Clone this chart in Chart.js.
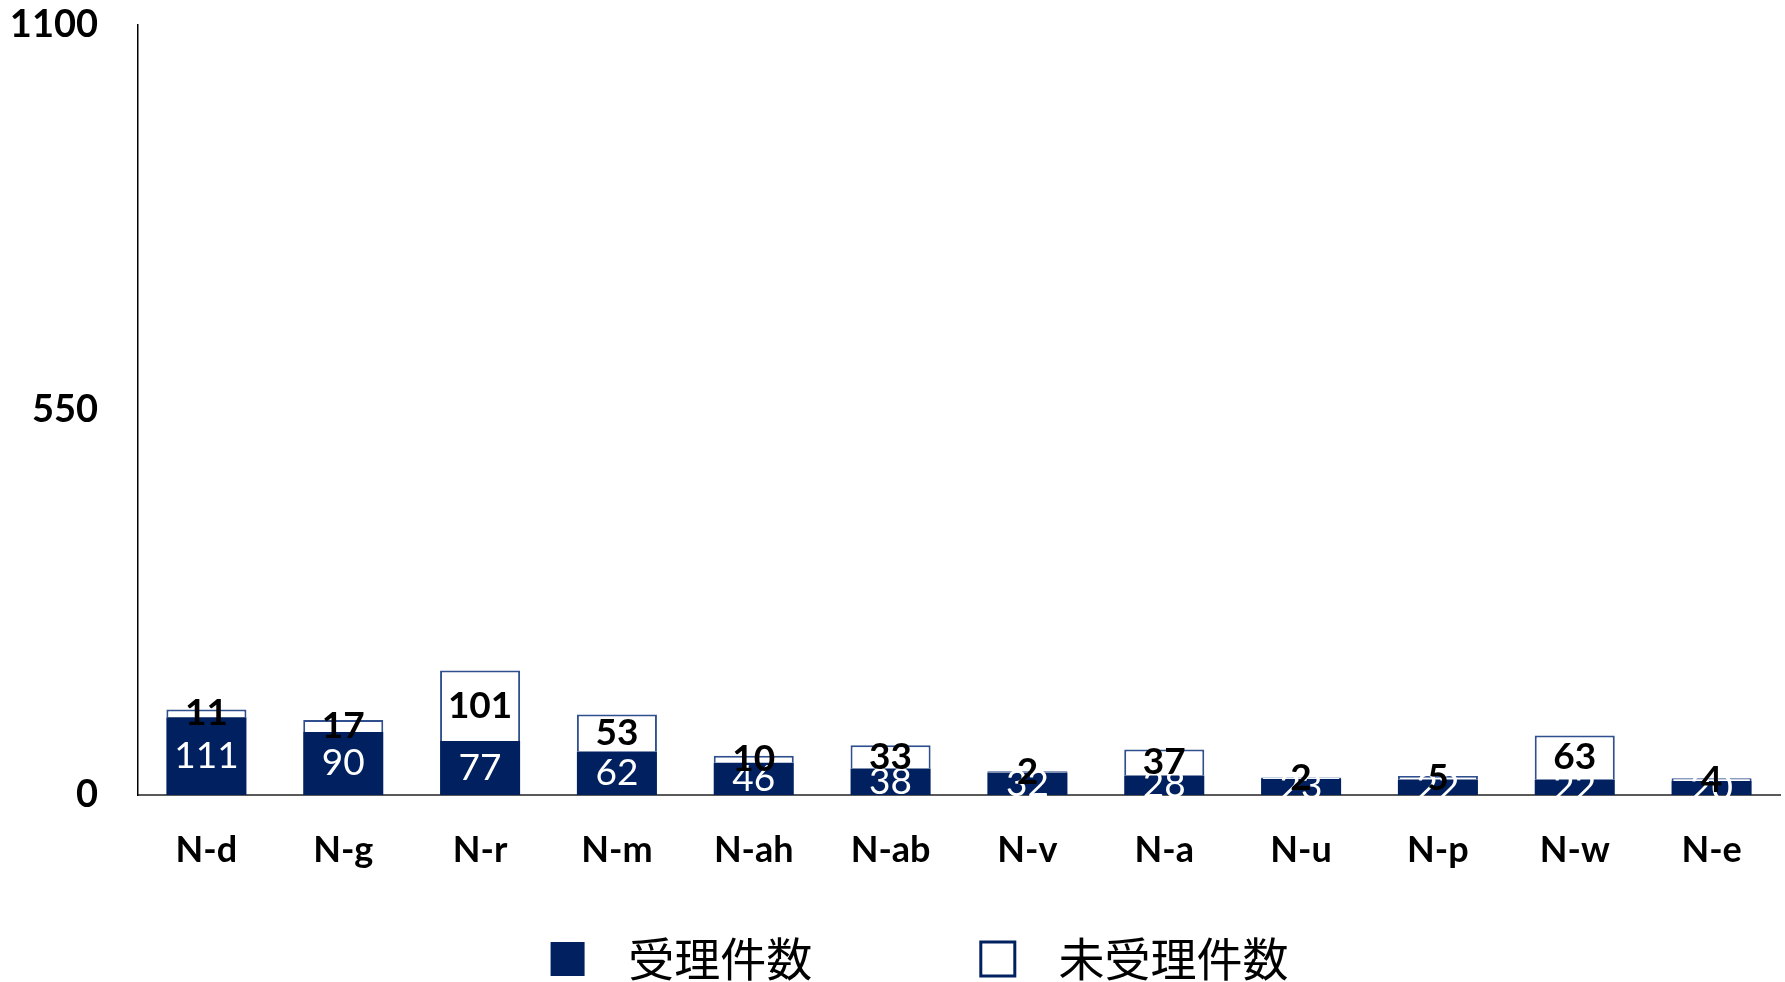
<!DOCTYPE html>
<html lang="ja">
<head>
<meta charset="utf-8">
<title>受理件数</title>
<script src="https://cdn.jsdelivr.net/npm/chart.js@4.4.1/dist/chart.umd.min.js"></script>
<style>
  html, body { margin: 0; padding: 0; background: #fff; }
  #chartBox { width: 1785px; height: 982px; }
</style>
</head>
<body>
<div id="chartBox"><canvas id="myChart"></canvas></div>
<script>
// data
const categories = ['N-d', 'N-g', 'N-r', 'N-m', 'N-ah', 'N-ab', 'N-v', 'N-a', 'N-u', 'N-p', 'N-w', 'N-e'];
const accepted = [111, 90, 77, 62, 46, 38, 32, 28, 23, 22, 22, 20];
const notAccepted = [11, 17, 101, 53, 10, 33, 2, 37, 2, 5, 63, 4];
const yTicks = [0, 550, 1100];
const seriesNames = ['受理件数', '未受理件数'];

const NAVY = '#002060';
const EDGE = '#2F4F8F';

// numbers inside each bar segment
const barValues = {
  id: 'barValues',
  afterDatasetsDraw(chart) {
    const ctx = chart.ctx;
    chart.data.datasets.forEach((ds, i) => {
      const meta = chart.getDatasetMeta(i);
      ctx.save();
      ctx.font = i === 0 ? '37px Lato' : 'bold 37px Lato';
      ctx.fillStyle = i === 0 ? '#fff' : '#000';
      ctx.textAlign = 'center';
      ctx.textBaseline = 'middle';
      meta.data.forEach((bar, j) => {
        const p = bar.getProps(['x', 'y', 'base'], true);
        ctx.fillText(ds.data[j], p.x, (p.y + p.base) / 2);
      });
      ctx.restore();
    });
  }
};

// legend sits a bit right of the canvas centre
const legendShift = {
  id: 'legendShift',
  afterLayout(chart) {
    chart.legend.left = 59;
  }
};

const ctx = document.getElementById('myChart');

new Chart(ctx, {
  type: 'bar',
  data: {
    labels: categories,
    datasets: [{
      label: seriesNames[0],
      data: accepted,
      backgroundColor: NAVY,
      borderWidth: 0
    }, {
      label: seriesNames[1],
      data: notAccepted,
      backgroundColor: '#fff',
      borderColor: EDGE,
      borderWidth: 2
    }]
  },
  options: {
    responsive: true,
    maintainAspectRatio: false,
    animation: false,
    layout: { padding: { top: 25, left: 0, right: 5, bottom: -10 } },
    datasets: { bar: { categoryPercentage: 1, barPercentage: 0.585 } },
    plugins: {
      tooltip: { enabled: false },
      legend: {
        position: 'bottom',
        labels: {
          color: '#000',
          font: { family: '"Noto Sans CJK JP"', size: 46 },
          boxWidth: 34,
          boxHeight: 34,
          padding: 10,
          generateLabels() {
            return [
              { text: '  ' + seriesNames[0] + '\u3000\u3000\u3000  ', fillStyle: NAVY, strokeStyle: NAVY, lineWidth: 0, datasetIndex: 0, hidden: false },
              { text: '  ' + seriesNames[1], fillStyle: '#fff', strokeStyle: NAVY, lineWidth: 3, datasetIndex: 1, hidden: false }
            ];
          }
        }
      }
    },
    scales: {
      x: {
        stacked: true,
        grid: { display: false, drawTicks: false },
        border: { display: true, color: '#595959', width: 2 },
        ticks: {
          color: '#000',
          font: { family: 'Lato', size: 36, weight: 'bold' },
          padding: 34,
          maxRotation: 0,
          autoSkip: false
        },
        afterFit(s) { s.height = 131; }
      },
      y: {
        stacked: true,
        min: 0,
        max: 1100,
        grid: { display: false, drawTicks: false },
        border: { display: true, color: '#000', width: 1.5 },
        ticks: {
          color: '#000',
          font: { family: 'Lato', size: 38, weight: 'bold' },
          padding: 40,
          callback: v => String(v)
        },
        afterBuildTicks(s) { s.ticks = yTicks.map(v => ({ value: v })); },
        afterFit(s) {
          s.width = 138;
          s.paddingTop = 0;
          s.paddingBottom = 0;
        }
      }
    }
  },
  plugins: [barValues, legendShift]
});
</script>
</body>
</html>
